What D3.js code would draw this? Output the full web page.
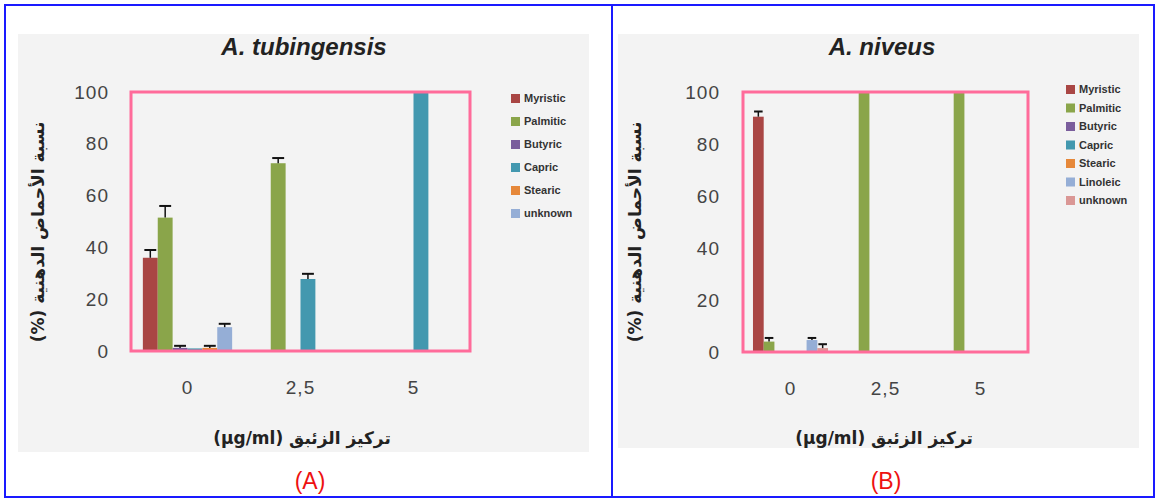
<!DOCTYPE html>
<html><head><meta charset="utf-8">
<script src="https://cdn.jsdelivr.net/npm/d3@7"></script>
<style>body{margin:0;background:#fff;}svg{display:block;}</style>
</head><body>
<svg id="chart" width="1157" height="500"></svg>
<script>
const categories = ["0", "2,5", "5"];
const yTicks = [0, 20, 40, 60, 80, 100];

const seriesA = ["Myristic", "Palmitic", "Butyric", "Capric", "Stearic", "unknown"];
const valuesA = [
  [36, 0, 0],
  [51.5, 72.5, 0],
  [1.2, 0, 0],
  [1, 27.8, 100],
  [1.2, 0, 0],
  [9.2, 0, 0]
];
const errorsA = [
  [3, 0, 0],
  [4.5, 2, 0],
  [0.8, 0, 0],
  [0, 2, 0],
  [0.8, 0, 0],
  [1.3, 0, 0]
];

const seriesB = ["Myristic", "Palmitic", "Butyric", "Capric", "Stearic", "Linoleic", "unknown"];
const valuesB = [
  [90.5, 0, 0],
  [4, 100, 100],
  [0, 0, 0],
  [0, 0, 0],
  [0, 0, 0],
  [4.6, 0, 0],
  [1.5, 0, 0]
];
const errorsB = [
  [2, 0, 0],
  [1.4, 0, 0],
  [0, 0, 0],
  [0, 0, 0],
  [0, 0, 0],
  [0.8, 0, 0],
  [1.5, 0, 0]
];

const colorsA = ["#A94644", "#8AA54A", "#7A5D9C", "#4398AF", "#E6883A", "#95AED6"];
const colorsB = ["#A94644", "#8AA54A", "#7A5D9C", "#4398AF", "#E6883A", "#95AED6", "#DA9795"];

const yTitle = "نسبة الأحماض الدهنية (%)";
const xTitle = "تركيز الزئبق (µg/ml)";

const svg = d3.select("#chart");

// outer blue frame
svg.append("rect").attr("x", 5).attr("y", 5).attr("width", 1149).attr("height", 492)
  .attr("fill", "none").attr("stroke", "#1a1aff").attr("stroke-width", 2);
svg.append("line").attr("x1", 612).attr("x2", 612).attr("y1", 5).attr("y2", 497)
  .attr("stroke", "#1a1aff").attr("stroke-width", 2);

function drawPanel(cfg) {
  const g = svg.append("g");
  g.append("rect").attr("x", cfg.bg[0]).attr("y", cfg.bg[1]).attr("width", cfg.bg[2]).attr("height", cfg.bg[3])
    .attr("fill", "#f3f3f3");

  const x = d3.scaleBand().domain(categories).range([cfg.left, cfg.right]).padding(0);
  const y = d3.scaleLinear().domain([0, 100]).range([cfg.bottom, cfg.top]);
  const bw = x.bandwidth();
  const x1 = d3.scaleBand().domain(cfg.series).range([bw * 0.105, bw * 0.895]).padding(0);

  // bars
  cfg.series.forEach((s, si) => {
    categories.forEach((c, ci) => {
      const v = cfg.values[si][ci];
      if (v <= 0) return;
      const bx = x(c) + x1(s);
      g.append("rect").attr("x", bx).attr("y", y(v)).attr("width", x1.bandwidth())
        .attr("height", y(0) - y(v)).attr("fill", cfg.colors[si]);
      const e = cfg.errors[si][ci];
      if (e > 0) {
        const cx = bx + x1.bandwidth() / 2;
        const hw = Math.min(6, x1.bandwidth() * 0.4);
        g.append("line").attr("x1", cx).attr("x2", cx).attr("y1", y(v)).attr("y2", y(v + e))
          .attr("stroke", "#111").attr("stroke-width", 1.5);
        g.append("line").attr("x1", cx - hw).attr("x2", cx + hw).attr("y1", y(v + e)).attr("y2", y(v + e))
          .attr("stroke", "#111").attr("stroke-width", 2);
      }
    });
  });

  // pink frame
  g.append("rect").attr("x", cfg.left).attr("y", cfg.top).attr("width", cfg.right - cfg.left)
    .attr("height", cfg.bottom - cfg.top).attr("fill", "none").attr("stroke", "#FF6B9A").attr("stroke-width", 3);

  // y axis
  const ya = g.append("g").attr("transform", `translate(${cfg.left},0)`)
    .call(d3.axisLeft(y).tickValues(yTicks).tickSize(0).tickPadding(cfg.yPad));
  ya.select(".domain").remove();
  ya.selectAll("text").attr("font-family", "Liberation Sans, Arial, sans-serif").attr("font-size", 19)
    .attr("fill", "#444").attr("letter-spacing", 1);

  // x axis
  const xa = g.append("g").attr("transform", `translate(0,${cfg.bottom})`)
    .call(d3.axisBottom(x).tickSize(0).tickPadding(cfg.xPad));
  xa.select(".domain").remove();
  xa.selectAll("text").attr("font-family", "Liberation Sans, Arial, sans-serif").attr("font-size", 19)
    .attr("fill", "#444").attr("letter-spacing", 1);

  // title
  g.append("text").attr("x", cfg.titleX).attr("y", 55).attr("text-anchor", "middle")
    .attr("font-family", "Liberation Sans, Arial, sans-serif").attr("font-size", 24)
    .attr("font-weight", "bold").attr("font-style", "italic").attr("fill", "#222").text(cfg.title);

  // y title
  g.append("text").attr("transform", `translate(${cfg.yTitleX},${cfg.yTitleY}) rotate(-90)`)
    .attr("text-anchor", "middle").attr("direction", "rtl")
    .attr("font-family", "DejaVu Sans, sans-serif").attr("font-size", 17).attr("font-weight", "bold")
    .attr("fill", "#222").text(yTitle);

  // x title
  g.append("text").attr("x", cfg.xTitleX).attr("y", 444).attr("text-anchor", "middle").attr("direction", "rtl")
    .attr("font-family", "DejaVu Sans, sans-serif").attr("font-size", 17).attr("font-weight", "bold")
    .attr("fill", "#222").text(xTitle);

  // legend
  cfg.series.forEach((s, i) => {
    const ly = cfg.legY + i * cfg.legStep;
    g.append("rect").attr("x", cfg.legX).attr("y", ly - 4).attr("width", 9).attr("height", 9)
      .attr("fill", cfg.colors[i]);
    g.append("text").attr("x", cfg.legX + 13).attr("y", ly + 4)
      .attr("font-family", "Liberation Sans, Arial, sans-serif").attr("font-size", 11).attr("font-weight", "bold")
      .attr("fill", "#333").text(s);
  });

  // panel label
  g.append("text").attr("x", cfg.labelX).attr("y", 489).attr("text-anchor", "middle")
    .attr("font-family", "Liberation Sans, Arial, sans-serif").attr("font-size", 23)
    .attr("fill", "#ee1111").text(cfg.label);
}

drawPanel({
  bg: [18, 34, 571, 418], left: 131, right: 470, top: 92, bottom: 351,
  series: seriesA, values: valuesA, errors: errorsA, colors: colorsA,
  yPad: 22, xPad: 30, title: "A. tubingensis", titleX: 304,
  yTitleX: 44, yTitleY: 232, xTitleX: 302,
  legX: 511, legY: 98, legStep: 23, label: "(A)", labelX: 310
});

drawPanel({
  bg: [618, 34, 521, 414], left: 743, right: 1028, top: 92, bottom: 352,
  series: seriesB, values: valuesB, errors: errorsB, colors: colorsB,
  yPad: 23, xPad: 30, title: "A. niveus", titleX: 882,
  yTitleX: 641, yTitleY: 232, xTitleX: 884,
  legX: 1066, legY: 89, legStep: 18.5, label: "(B)", labelX: 886
});
</script>
</body></html>
